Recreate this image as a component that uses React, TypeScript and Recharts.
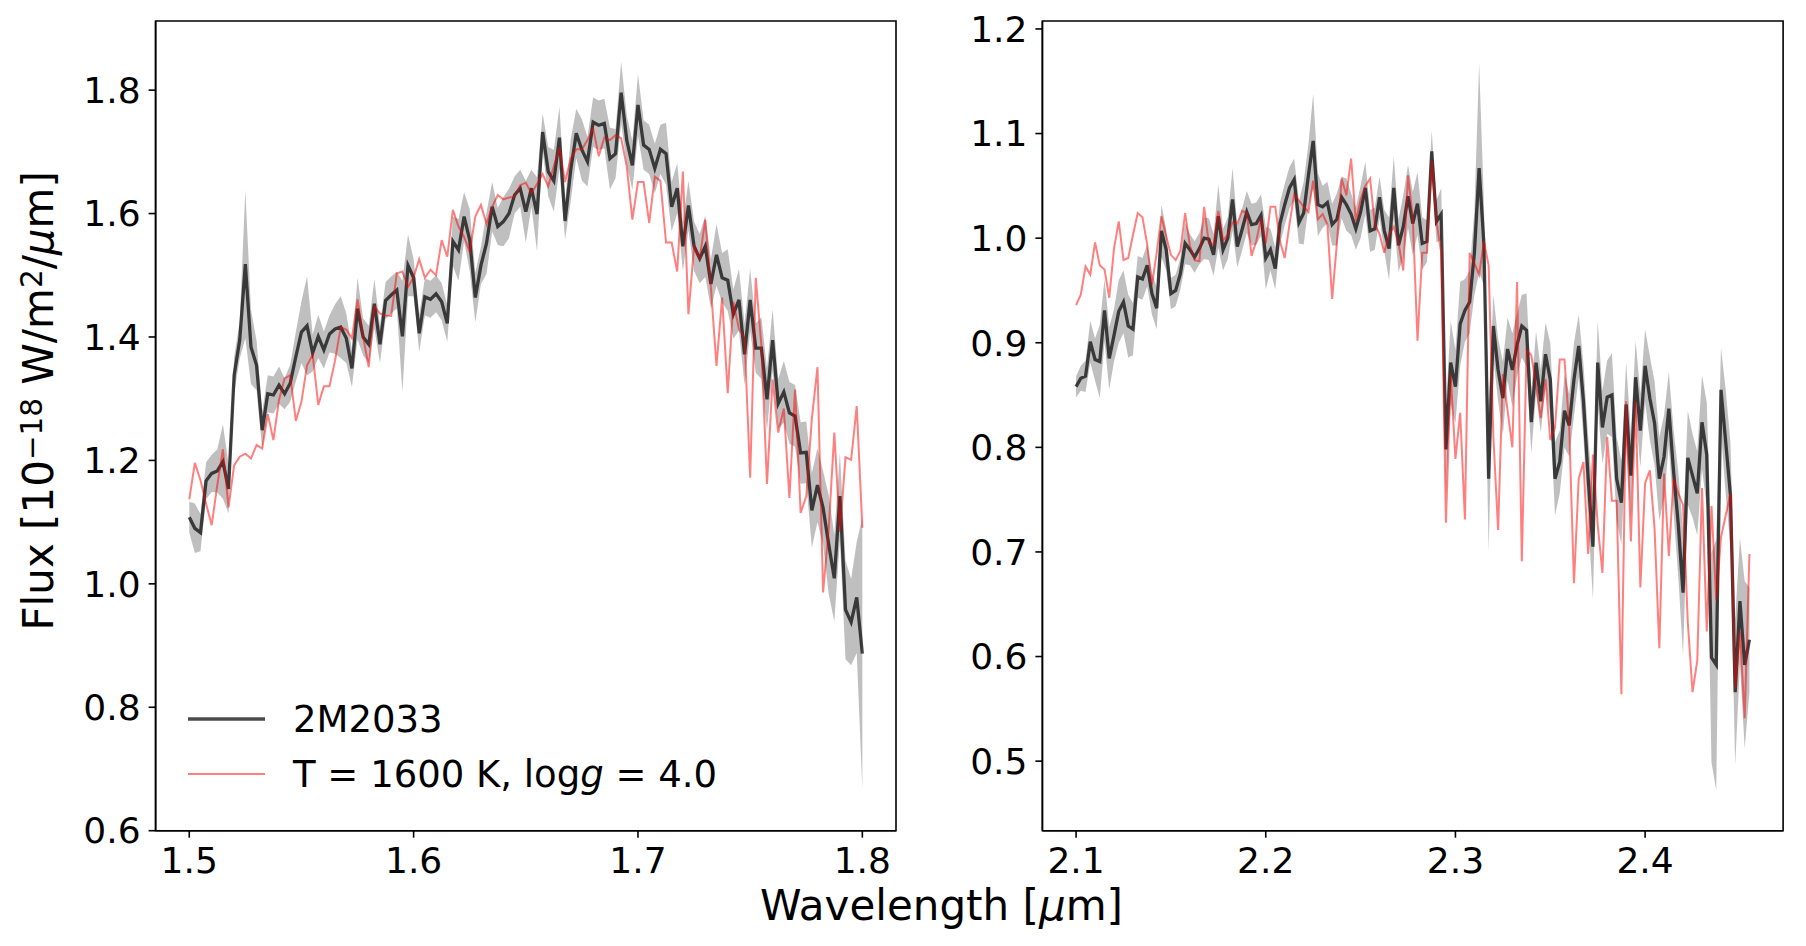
import React from 'react';
import { ComposedChart, Line, Area, XAxis, YAxis, Legend, Label, ReferenceArea } from 'recharts';

const FONT = '"DejaVu Sans", sans-serif';

// ---------- H band (left panel) ----------
const H_START = 1.5;
const H_STEP = 0.0025;
const hFlux = [
  1.108, 1.090, 1.083, 1.167, 1.179, 1.183, 1.198, 1.154, 1.338, 1.395,
  1.518, 1.384, 1.354, 1.249, 1.308, 1.306, 1.322, 1.308, 1.325, 1.368,
  1.408, 1.418, 1.374, 1.401, 1.379, 1.405, 1.413, 1.416, 1.398, 1.349,
  1.446, 1.400, 1.388, 1.454, 1.388, 1.459, 1.468, 1.476, 1.401, 1.516,
  1.496, 1.406, 1.465, 1.461, 1.470, 1.457, 1.422, 1.555, 1.541, 1.595,
  1.557, 1.464, 1.516, 1.552, 1.611, 1.579, 1.587, 1.600, 1.630, 1.641,
  1.603, 1.641, 1.599, 1.732, 1.668, 1.653, 1.723, 1.588, 1.670, 1.730,
  1.703, 1.684, 1.748, 1.743, 1.746, 1.689, 1.697, 1.796, 1.719, 1.678,
  1.776, 1.711, 1.704, 1.673, 1.704, 1.697, 1.611, 1.641, 1.547, 1.613,
  1.547, 1.527, 1.547, 1.486, 1.533, 1.496, 1.492, 1.437, 1.460, 1.372,
  1.460, 1.382, 1.382, 1.299, 1.395, 1.292, 1.311, 1.277, 1.272, 1.212,
  1.213, 1.119, 1.160, 1.123, 1.064, 1.009, 1.142, 0.958, 0.938, 0.978,
  0.887,
];
const hErr = [
  0.025, 0.04, 0.03, 0.03, 0.03, 0.035, 0.06, 0.04, 0.03, 0.03,
  0.12, 0.06, 0.04, 0.03, 0.03, 0.03, 0.03, 0.025, 0.03, 0.04,
  0.05, 0.08, 0.03, 0.035, 0.03, 0.03, 0.04, 0.05, 0.04, 0.03,
  0.05, 0.03, 0.03, 0.04, 0.03, 0.03, 0.03, 0.03, 0.09, 0.05,
  0.03, 0.03, 0.03, 0.03, 0.03, 0.03, 0.03, 0.04, 0.05, 0.04,
  0.05, 0.04, 0.03, 0.05, 0.04, 0.03, 0.04, 0.04, 0.03, 0.03,
  0.05, 0.03, 0.06, 0.03, 0.04, 0.05, 0.05, 0.03, 0.05, 0.04,
  0.05, 0.04, 0.04, 0.04, 0.04, 0.05, 0.04, 0.05, 0.04, 0.04,
  0.05, 0.04, 0.04, 0.04, 0.04, 0.05, 0.04, 0.04, 0.04, 0.04,
  0.04, 0.04, 0.05, 0.04, 0.05, 0.04, 0.05, 0.04, 0.05, 0.05,
  0.05, 0.04, 0.05, 0.05, 0.05, 0.04, 0.05, 0.05, 0.05, 0.05,
  0.05, 0.06, 0.06, 0.06, 0.08, 0.07, 0.07, 0.08, 0.07, 0.09,
  0.22,
];
const hModel = [
  1.137, 1.196, 1.168, 1.130, 1.095, 1.160, 1.218, 1.124, 1.192, 1.206,
  1.211, 1.203, 1.225, 1.219, 1.275, 1.233, 1.298, 1.333, 1.338, 1.264,
  1.295, 1.354, 1.371, 1.290, 1.320, 1.320, 1.362, 1.416, 1.412, 1.398,
  1.461, 1.400, 1.351, 1.450, 1.438, 1.435, 1.434, 1.503, 1.506, 1.481,
  1.497, 1.526, 1.496, 1.509, 1.500, 1.557, 1.530, 1.606, 1.579, 1.562,
  1.538, 1.595, 1.614, 1.583, 1.611, 1.630, 1.623, 1.626, 1.627, 1.646,
  1.650, 1.633, 1.648, 1.664, 1.644, 1.677, 1.707, 1.651, 1.689, 1.704,
  1.704, 1.719, 1.738, 1.693, 1.723, 1.719, 1.727, 1.722, 1.676, 1.590,
  1.651, 1.651, 1.585, 1.660, 1.653, 1.553, 1.553, 1.506, 1.668, 1.437,
  1.547, 1.527, 1.590, 1.480, 1.353, 1.464, 1.309, 1.457, 1.413, 1.398,
  1.172, 1.496, 1.386, 1.162, 1.331, 1.245, 1.284, 1.139, 1.315, 1.115,
  1.142, 1.268, 1.351, 0.986, 1.088, 1.245, 1.084, 1.205, 1.201, 1.288,
  1.091,
];
const hTicksX = [1.5, 1.6, 1.7, 1.8];
const hTicksY = [0.6, 0.8, 1.0, 1.2, 1.4, 1.6, 1.8];
const hDomainX: [number, number] = [1.485, 1.815];
const hDomainY: [number, number] = [0.6, 1.912];

// ---------- K band (right panel) ----------
const K_START = 2.1;
const K_STEP = 0.0025;
const kFlux = [
  0.858, 0.866, 0.868, 0.901, 0.884, 0.882, 0.931, 0.885, 0.907, 0.930,
  0.939, 0.916, 0.913, 0.963, 0.961, 0.974, 0.947, 0.933, 1.007, 0.989,
  0.947, 0.950, 0.966, 0.995, 0.989, 0.982, 0.990, 1.000, 0.999, 0.984,
  1.021, 0.989, 1.000, 1.037, 0.992, 1.008, 1.025, 1.013, 1.014, 1.022,
  0.981, 0.989, 0.971, 1.014, 1.032, 1.048, 1.056, 1.015, 1.024, 1.060,
  1.093, 1.032, 1.030, 1.034, 1.013, 1.018, 1.039, 1.032, 1.023, 1.009,
  1.025, 1.048, 1.007, 1.009, 1.039, 1.007, 0.990, 1.048, 0.993, 1.011,
  1.040, 1.014, 1.033, 0.995, 0.997, 1.083, 1.016, 1.023, 0.798, 0.881,
  0.858, 0.918, 0.931, 0.939, 0.986, 1.067, 0.995, 0.770, 0.916, 0.874,
  0.847, 0.894, 0.874, 0.898, 0.916, 0.912, 0.824, 0.881, 0.844, 0.889,
  0.865, 0.770, 0.786, 0.835, 0.821, 0.865, 0.897, 0.844, 0.770, 0.705,
  0.881, 0.819, 0.848, 0.850, 0.770, 0.747, 0.841, 0.773, 0.867, 0.816,
  0.878, 0.847, 0.823, 0.770, 0.791, 0.837, 0.777, 0.726, 0.661, 0.790,
  0.773, 0.756, 0.824, 0.793, 0.599, 0.592, 0.855, 0.805, 0.754, 0.566,
  0.653, 0.592, 0.616,
];
const kErr = [
  0.01, 0.012, 0.015, 0.02, 0.02, 0.035, 0.03, 0.03, 0.025, 0.03,
  0.03, 0.03, 0.025, 0.02, 0.02, 0.02, 0.02, 0.02, 0.025, 0.02,
  0.015, 0.015, 0.015, 0.02, 0.015, 0.015, 0.015, 0.02, 0.02, 0.02,
  0.03, 0.02, 0.02, 0.03, 0.02, 0.02, 0.02, 0.02, 0.02, 0.02,
  0.03, 0.02, 0.02, 0.02, 0.02, 0.02, 0.02, 0.02, 0.03, 0.03,
  0.045, 0.03, 0.02, 0.02, 0.02, 0.025, 0.02, 0.025, 0.02, 0.02,
  0.025, 0.025, 0.02, 0.02, 0.02, 0.02, 0.03, 0.03, 0.025, 0.03,
  0.03, 0.03, 0.03, 0.025, 0.02, 0.02, 0.02, 0.025, 0.04, 0.04,
  0.035, 0.04, 0.03, 0.03, 0.04, 0.1, 0.04, 0.07, 0.03, 0.03,
  0.035, 0.03, 0.035, 0.03, 0.03, 0.035, 0.03, 0.03, 0.03, 0.03,
  0.035, 0.035, 0.03, 0.035, 0.03, 0.035, 0.03, 0.035, 0.04, 0.05,
  0.04, 0.035, 0.035, 0.04, 0.04, 0.04, 0.04, 0.04, 0.035, 0.035,
  0.035, 0.04, 0.04, 0.04, 0.04, 0.035, 0.04, 0.05, 0.06, 0.045,
  0.04, 0.04, 0.045, 0.05, 0.1, 0.12, 0.04, 0.05, 0.05, 0.07,
  0.06, 0.08, 0.05,
];
const kModel = [
  0.936, 0.946, 0.973, 0.965, 0.996, 0.974, 0.970, 0.943, 0.990, 1.016,
  0.979, 0.981, 1.003, 1.024, 1.020, 0.994, 0.955, 0.986, 1.021, 1.002,
  0.984, 0.979, 0.988, 1.024, 0.993, 0.979, 0.978, 1.030, 0.995, 0.994,
  1.026, 0.998, 1.003, 1.015, 1.014, 1.026, 1.024, 0.983, 0.997, 1.019,
  0.995, 1.030, 1.030, 0.997, 0.981, 1.013, 1.042, 1.036, 1.030, 1.025,
  1.055, 1.018, 1.023, 1.013, 0.942, 0.995, 1.057, 1.041, 1.076, 1.016,
  1.037, 1.050, 1.057, 1.013, 1.004, 0.986, 1.004, 1.011, 0.995, 0.969,
  1.060, 1.020, 0.902, 0.986, 0.986, 1.074, 1.016, 0.986, 0.728, 0.870,
  0.789, 0.833, 0.731, 0.986, 0.976, 0.965, 0.997, 0.974, 0.810, 0.721,
  0.870, 0.835, 0.800, 0.958, 0.691, 0.893, 0.888, 0.860, 0.828, 0.865,
  0.807, 0.819, 0.884, 0.884, 0.819, 0.670, 0.770, 0.786, 0.698, 0.793,
  0.726, 0.680, 0.810, 0.749, 0.749, 0.564, 0.844, 0.710, 0.844, 0.666,
  0.766, 0.778, 0.722, 0.608, 0.775, 0.696, 0.770, 0.756, 0.745, 0.633,
  0.566, 0.596, 0.761, 0.624, 0.744, 0.654, 0.714, 0.735, 0.756, 0.569,
  0.624, 0.541, 0.698,
];
const kTicksX = [2.1, 2.2, 2.3, 2.4];
const kTicksY = [0.5, 0.6, 0.7, 0.8, 0.9, 1.0, 1.1, 1.2];
const kDomainX: [number, number] = [2.08225, 2.47275];
const kDomainY: [number, number] = [0.4335, 1.2076];

const DATA_NAME = '2M2033';
const MODEL_NAME = 'T = 1600 K, log g = 4.0';

const buildRows = (start: number, step: number, flux: number[], err: number[], model: number[]) =>
  flux.map((f, i) => ({
    wl: +(start + i * step).toFixed(5),
    flux: f,
    band: [+(f - err[i]).toFixed(4), +(f + err[i]).toFixed(4)],
    model: model[i],
  }));

const hRows = buildRows(H_START, H_STEP, hFlux, hErr, hModel);
const kRows = buildRows(K_START, K_STEP, kFlux, kErr, kModel);

const LINE_STYLE: Record<string, { stroke: string; opacity: number; width: number }> = {
  flux: { stroke: '#000000', opacity: 0.7, width: 3.3 },
  model: { stroke: '#ff0000', opacity: 0.5, width: 2 },
};

const fmt = (v: number) => v.toFixed(1);
const axisStroke = { stroke: '#000', strokeWidth: 1.6 };
const tickStyle = { fontSize: 36, fill: '#000', fontFamily: FONT };

const YLabel = (props: any) => {
  const vb = props.viewBox || { x: 0, y: 21, width: 155.6, height: 809.7 };
  const cx = vb.x + 53;
  const cy = vb.y + vb.height / 2 - 25;
  return (
    <text
      x={cx}
      y={cy}
      transform={`rotate(-90 ${cx} ${cy})`}
      textAnchor="middle"
      fontSize={42}
      fontFamily={FONT}
      fill="#000"
    >
      Flux [10<tspan dy={-11} fontSize={29.4}>−18</tspan>
      <tspan dy={11}> W/m</tspan>
      <tspan dy={-11} fontSize={29.4}>2</tspan>
      <tspan dy={11}>/</tspan>
      <tspan fontStyle="italic">μ</tspan>m]
    </text>
  );
};

const renderLegend = (props: any) => {
  const payload = (props.payload || []).filter((p: any) => p.type !== 'none');
  return (
    <svg width={560} height={110} style={{ display: 'block' }}>
      {payload.map((p: any, i: number) => {
        const st = LINE_STYLE[p.dataKey] || LINE_STYLE.flux;
        const ly = 29 + i * 55;
        const ty = 42 + i * 55;
        return (
          <g key={i}>
            <line x1={18} x2={95} y1={ly} y2={ly} stroke={st.stroke} strokeOpacity={st.opacity} strokeWidth={st.width} />
            <text x={123} y={ty} fontSize={37} fontFamily={FONT} fill="#000">
              {p.value === MODEL_NAME ? (
                <>
                  T = 1600 K, log<tspan fontStyle="italic">g</tspan> = 4.0
                </>
              ) : (
                p.value
              )}
            </text>
          </g>
        );
      })}
    </svg>
  );
};

type PanelProps = {
  rows: any[];
  width: number;
  height: number;
  margin: { top: number; right: number; bottom: number; left: number };
  yAxisWidth: number;
  xDomain: [number, number];
  yDomain: [number, number];
  xTicks: number[];
  yTicks: number[];
  withLegend?: boolean;
  withYLabel?: boolean;
};

const Panel = ({ rows, width, height, margin, yAxisWidth, xDomain, yDomain, xTicks, yTicks, withLegend, withYLabel }: PanelProps) => (
  <ComposedChart width={width} height={height} data={rows} margin={margin}>
    <XAxis
      xAxisId="b"
      dataKey="wl"
      type="number"
      domain={xDomain}
      ticks={xTicks}
      interval={0}
      allowDataOverflow
      tickFormatter={fmt}
      tick={tickStyle}
      tickSize={7}
      tickMargin={10}
      tickLine={axisStroke}
      axisLine={axisStroke}
      height={60}
    />
    <YAxis
      yAxisId="l"
      type="number"
      domain={yDomain}
      ticks={yTicks}
      interval={0}
      allowDataOverflow
      tickFormatter={fmt}
      tick={tickStyle}
      tickSize={7}
      tickMargin={8}
      tickLine={axisStroke}
      axisLine={axisStroke}
      width={yAxisWidth}
    >
      {withYLabel ? <Label content={YLabel} /> : null}
    </YAxis>
    <Area
      xAxisId="b"
      yAxisId="l"
      type="linear"
      dataKey="band"
      stroke="none"
      fill="#808080"
      fillOpacity={0.5}
      isAnimationActive={false}
      legendType="none"
      activeDot={false}
    />
    <Line
      xAxisId="b"
      yAxisId="l"
      type="linear"
      dataKey="flux"
      name={DATA_NAME}
      stroke={LINE_STYLE.flux.stroke}
      strokeOpacity={LINE_STYLE.flux.opacity}
      strokeWidth={LINE_STYLE.flux.width}
      dot={false}
      activeDot={false}
      isAnimationActive={false}
    />
    <Line
      xAxisId="b"
      yAxisId="l"
      type="linear"
      dataKey="model"
      name={MODEL_NAME}
      stroke={LINE_STYLE.model.stroke}
      strokeOpacity={LINE_STYLE.model.opacity}
      strokeWidth={LINE_STYLE.model.width}
      dot={false}
      activeDot={false}
      isAnimationActive={false}
    />
    <ReferenceArea
      xAxisId="b"
      yAxisId="l"
      x1={xDomain[0]}
      x2={xDomain[1]}
      y1={yDomain[0]}
      y2={yDomain[1]}
      fill="none"
      fillOpacity={0}
      stroke="#000"
      strokeWidth={1.6}
      ifOverflow="visible"
    />
    {withLegend ? (
      <Legend
        layout="horizontal"
        verticalAlign="middle"
        align="center"
        content={renderLegend}
        wrapperStyle={{ position: 'absolute', left: 170, top: 690, width: 560, height: 110 }}
      />
    ) : null}
  </ComposedChart>
);

export default function App() {
  return (
    <div style={{ position: 'absolute', left: 0, top: 0, width: 1806, height: 946, background: '#fff', fontFamily: FONT }}>
      <div style={{ position: 'absolute', left: 0, top: 0 }}>
        <Panel
          rows={hRows}
          width={920}
          height={946}
          margin={{ top: 21, right: 24, bottom: 55.3, left: 0 }}
          yAxisWidth={155.6}
          xDomain={hDomainX}
          yDomain={hDomainY}
          xTicks={hTicksX}
          yTicks={hTicksY}
          withLegend
          withYLabel
        />
      </div>
      <div style={{ position: 'absolute', left: 920, top: 0 }}>
        <Panel
          rows={kRows}
          width={886}
          height={946}
          margin={{ top: 21, right: 22.9, bottom: 55.3, left: 0 }}
          yAxisWidth={122.4}
          xDomain={kDomainX}
          yDomain={kDomainY}
          xTicks={kTicksX}
          yTicks={kTicksY}
        />
      </div>
      <svg width={1806} height={946} style={{ position: 'absolute', left: 0, top: 0, pointerEvents: 'none' }}>
        <text x={941.5} y={920} textAnchor="middle" fontSize={42} fontFamily={FONT} fill="#000">
          Wavelength [<tspan fontStyle="italic">μ</tspan>m]
        </text>
      </svg>
    </div>
  );
}
